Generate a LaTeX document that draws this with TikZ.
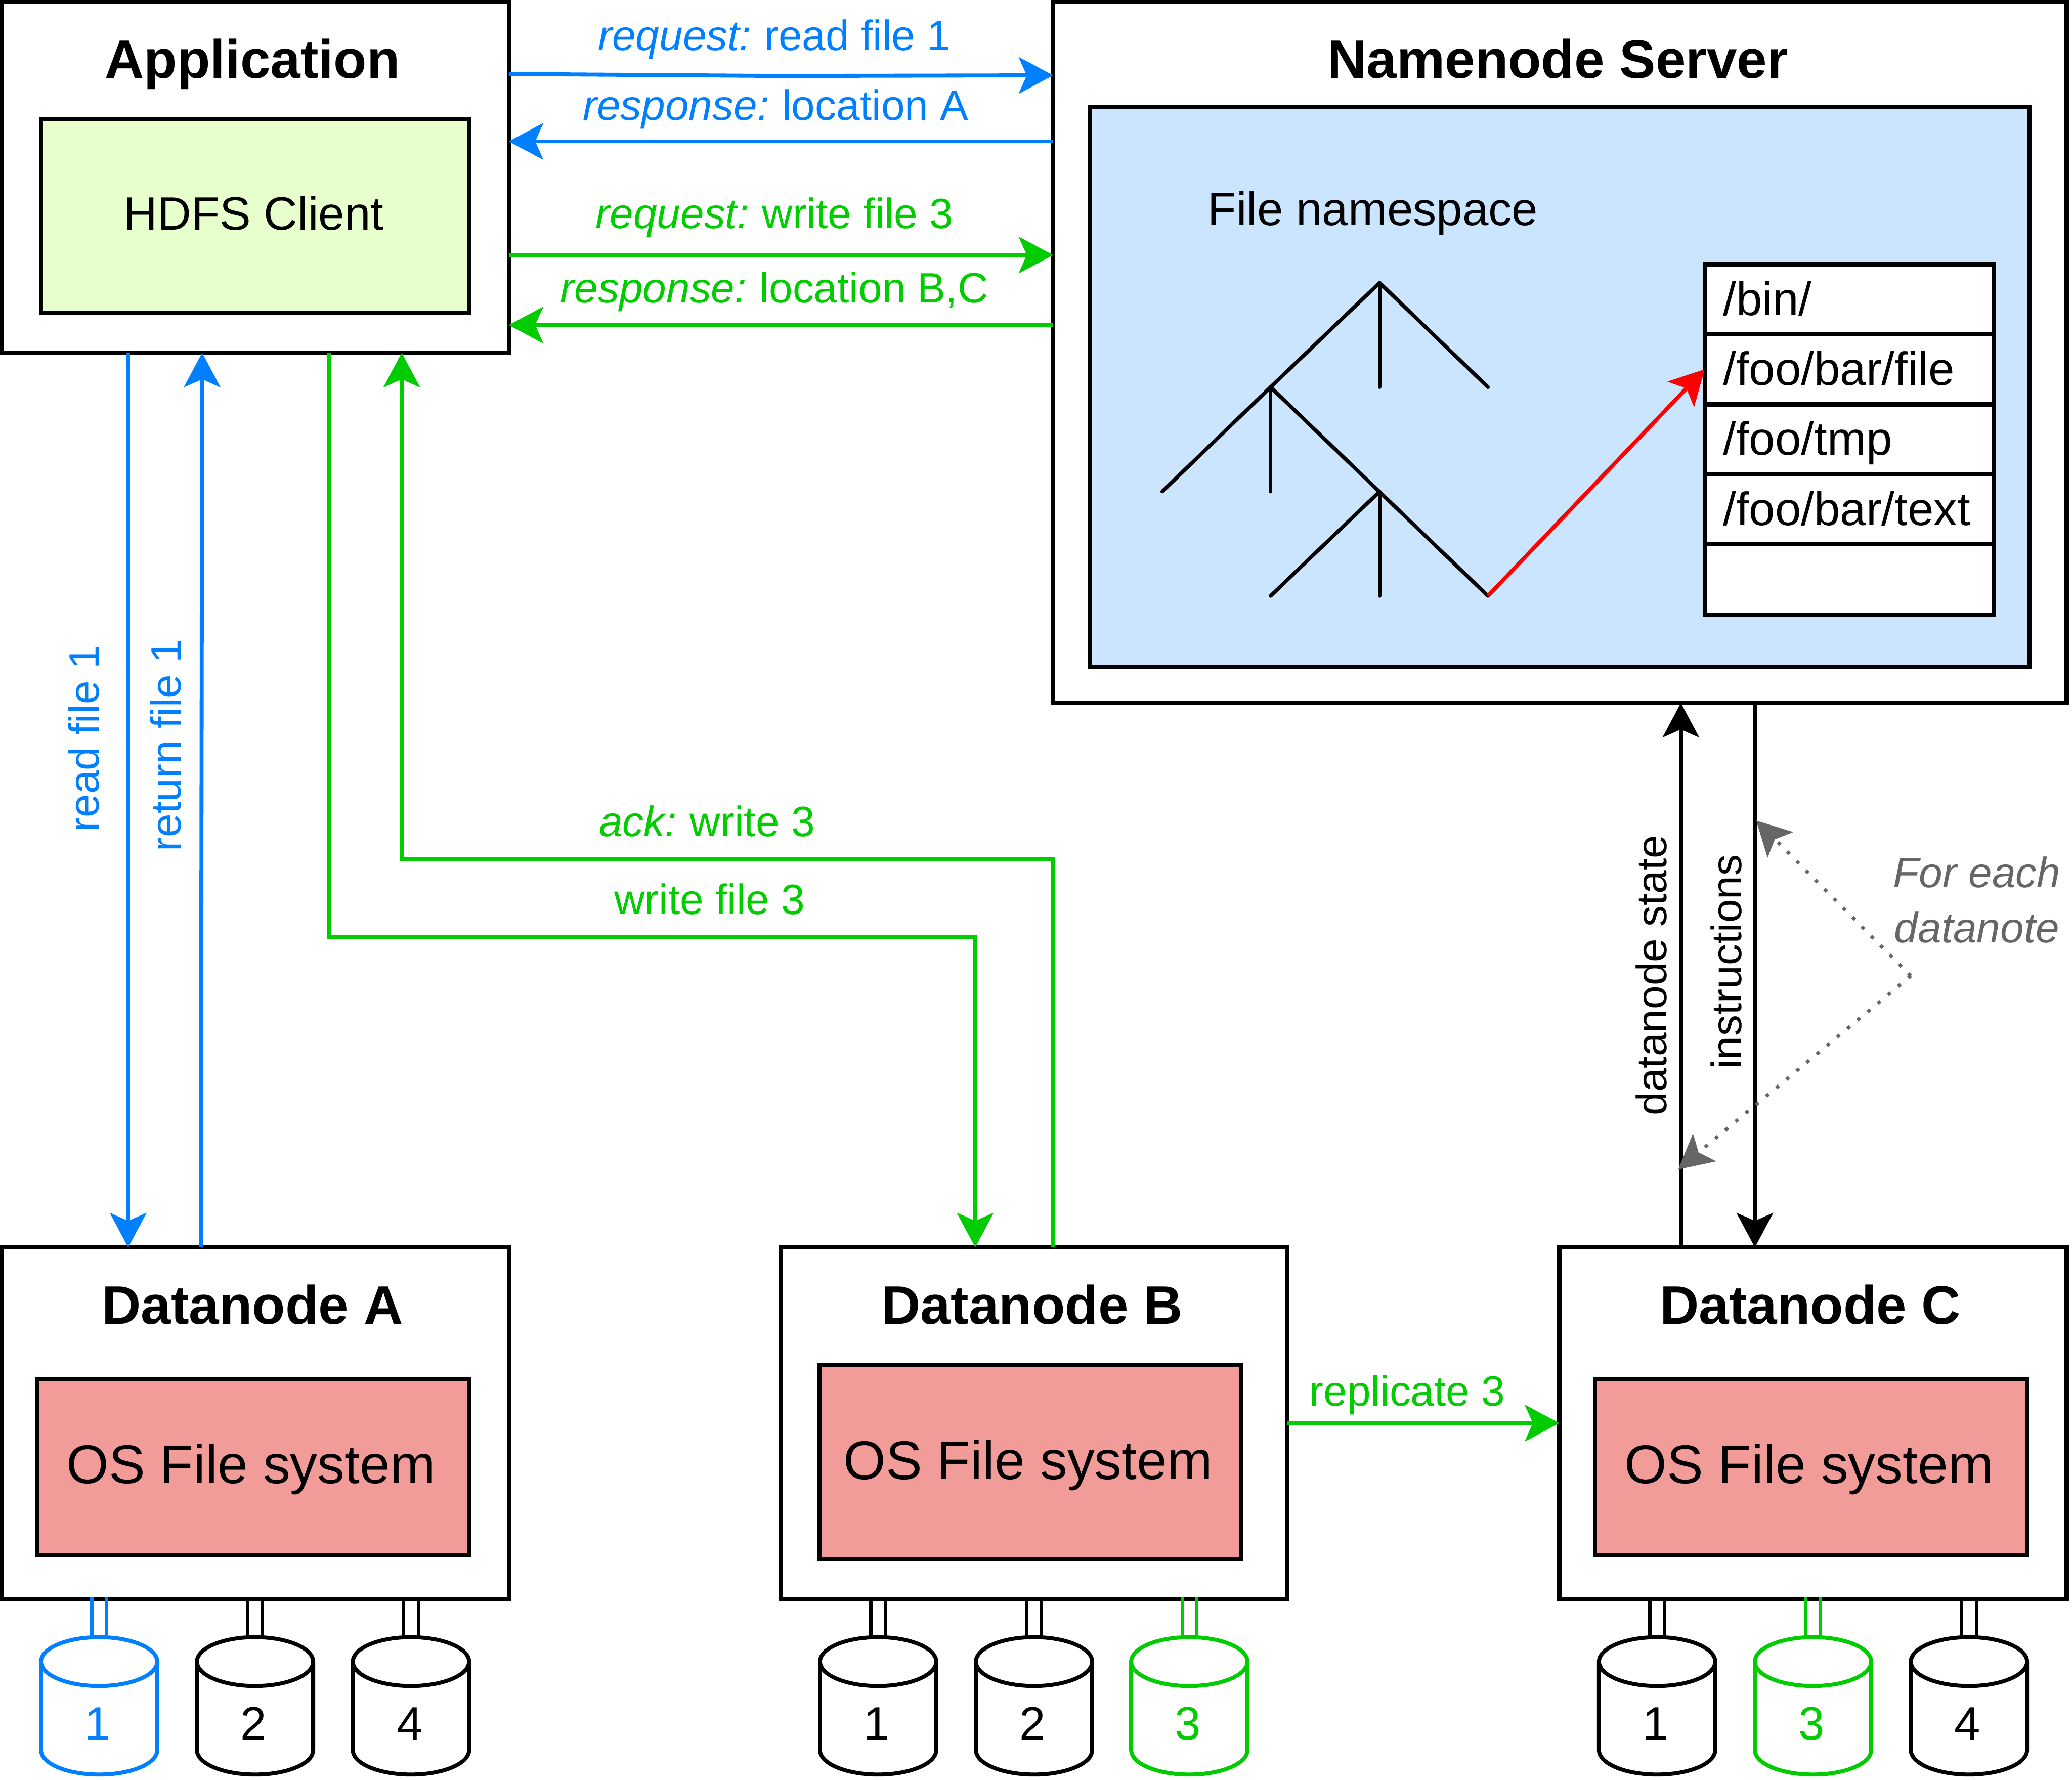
\documentclass[tikz,border=0pt]{standalone}
\usepackage{fontspec}
\setmainfont{Liberation Sans}
\usetikzlibrary{arrows.meta,calc}
\definecolor{cblue}{HTML}{007FFF}
\definecolor{cgreen}{HTML}{00CC00}
\definecolor{cgray}{HTML}{666666}
\definecolor{cclient}{HTML}{E6FFCC}
\definecolor{cname}{HTML}{CCE5FF}
\definecolor{cos}{HTML}{F19C99}
\newcommand{\lead}[1]{\textit{#1}\hspace{-2pt} }
\tikzset{
  x=1pt,y=-1pt,
  boxst/.style={draw=black,line width=3.2pt,fill=white,inner sep=0pt,outer sep=0pt,anchor=north west},
  cellst/.style={boxst,minimum width=219pt,minimum height=53pt,align=left,text width=191pt,
     font=\fontsize{35.4}{40}\selectfont,text height=31pt,text depth=7pt},
  titlest/.style={font=\fontsize{41}{46}\selectfont\bfseries,text height=37pt,text depth=9pt,inner sep=0pt},
  bigst/.style={font=\fontsize{41.2}{46}\selectfont,text height=36pt,text depth=9pt,inner sep=0pt},
  midst/.style={font=\fontsize{35.4}{40}\selectfont,text height=31pt,text depth=8pt,inner sep=0pt},
  labst/.style={font=\fontsize{32.1}{36}\selectfont,text height=29pt,text depth=7pt,inner sep=0pt},
  tipst/.style={-{Stealth[length=26pt,width=27.5pt,inset=6pt]}},
  arrowst/.style={line width=3pt,tipst},
  treest/.style={line width=2.8pt,line cap=round},
  notest/.style={cgray,line width=2.6pt,dash pattern=on 2.6pt off 7.4pt,
     -{Stealth[length=26pt,width=27.5pt,inset=6pt,line width=0pt]}},
}
\newcommand{\disk}[5]{%
  \node (#1) [inner sep=0pt,outer sep=0pt,minimum width=88pt,minimum height=104pt] at (#2,1291) {};
  \coordinate (#1s) at (#1.north |- #5.south);
  \draw[#3,line width=2.4pt] ([xshift=-5.5pt,yshift=1.5pt]#1s) -- ([xshift=-5.5pt,yshift=-2pt]#1.north);
  \draw[#3,line width=2.4pt] ([xshift=5.5pt,yshift=1.5pt]#1s) -- ([xshift=5.5pt,yshift=-2pt]#1.north);
  \draw[#3,line width=3pt,fill=white]
    ([yshift=-18.5pt]#1.north west) arc[start angle=180,end angle=0,x radius=44pt,y radius=18.5pt]
    -- ([yshift=18.5pt]#1.south east) arc[start angle=0,end angle=-180,x radius=44pt,y radius=18.5pt]
    -- cycle;
  \draw[#3,line width=3pt]
    ([yshift=-18.5pt]#1.north west) arc[start angle=180,end angle=360,x radius=44pt,y radius=18.5pt];
  \node (#1t) [midst,text=#3] at ([xshift=-1pt,yshift=-14pt]#1.center) {#4};
}
\begin{document}
\begin{tikzpicture}
\useasboundingbox (0,0) rectangle (1568,1347);
\fill[white] (0,0) rectangle (1568,1347);

% main boxes
\node (app) [boxst,minimum width=384pt,minimum height=266pt] at (1,1) {};
\node (client) [boxst,fill=cclient,minimum width=324pt,minimum height=147pt] at (31,90) {};
\node (name) [boxst,minimum width=767pt,minimum height=531pt] at (797,1) {};
\node (space) [boxst,fill=cname,minimum width=711pt,minimum height=424pt] at (825,81) {};
\node (dna) [boxst,minimum width=384pt,minimum height=266pt] at (1,944) {};
\node (osa) [boxst,fill=cos,minimum width=327pt,minimum height=133pt] at (28,1044) {};
\node (dnb) [boxst,minimum width=383pt,minimum height=266pt] at (591,944) {};
\node (osb) [boxst,fill=cos,minimum width=319pt,minimum height=147pt] at (620,1033) {};
\node (dnc) [boxst,minimum width=384pt,minimum height=266pt] at (1180,944) {};
\node (osc) [boxst,fill=cos,minimum width=327pt,minimum height=133pt] at (1207,1044) {};

% titles and inner texts
\node (tapp) [titlest] at (191,45) {Application};
\node (tname) [titlest] at (1179,45) {Namenode Server};
\node (tdna) [titlest] at (191,988) {Datanode A};
\node (tdnb) [titlest] at (781,988) {Datanode B};
\node (tdnc) [titlest] at (1370,988) {Datanode C};
\node (tclient) [midst] at ([xshift=-1pt,yshift=1pt]client.center) {HDFS Client};
\node (tosa) [bigst] at (190,1109) {OS File system};
\node (tosb) [bigst] at (778,1106) {OS File system};
\node (tosc) [bigst] at (1369,1109) {OS File system};
\node (tspace) [midst] at (1039,159) {File namespace};

% table
\node (r1) [cellst] at (1290,200) {/bin/};
\node (r2) [cellst] at (1290,253) {/foo/bar/file};
\node (r3) [cellst] at (1290,306) {/foo/tmp};
\node (r4) [cellst] at (1290,359) {/foo/bar/text};
\node (r5) [cellst] at (1290,412) {};

% tree
\coordinate (t0) at (1044,214);
\coordinate (t1) at (961.5,293);
\coordinate (t2) at (1044,293);
\coordinate (t3) at (1126,293);
\coordinate (t4) at (879.5,372);
\coordinate (t5) at (961.5,372);
\coordinate (t6) at (1044,372);
\coordinate (t7) at (1126,451);
\coordinate (t8) at (961.5,451);
\coordinate (t9) at (1044,451);
\draw[treest] (t0) -- (t1);
\draw[treest] (t0) -- (t2);
\draw[treest] (t0) -- (t3);
\draw[treest] (t1) -- (t4);
\draw[treest] (t1) -- (t5);
\draw[treest] (t1) -- (t7);
\draw[treest] (t6) -- (t8);
\draw[treest] (t6) -- (t9);
\draw[arrowst,red] (t7) -- (r2.west);

% top connectors
\draw[arrowst,cblue] ([yshift=-55pt]app.north east) -- ($([yshift=-55pt]app.north east)!.5!([yshift=-56pt]name.north west)+(0,1)$) -- ([yshift=-56pt]name.north west);
\draw[arrowst,cblue] ([yshift=-106pt]name.north west) -- ([yshift=-106pt]app.north east);
\draw[arrowst,cgreen] ([yshift=-192pt]app.north east) -- ([yshift=-192pt]name.north west);
\draw[arrowst,cgreen] ([yshift=-245pt]name.north west) -- ([yshift=-245pt]app.north east);
\node (l1) [labst,text=cblue] at (586,27) {\lead{request:}read file 1};
\node (l2) [labst,text=cblue] at (587,80) {\lead{response:}location A};
\node (l3) [labst,text=cgreen] at (586,162) {\lead{request:}write file 3};
\node (l4) [labst,text=cgreen] at (586,218) {\lead{response:}location B,C};

% application to datanodes
\draw[arrowst,cblue] ([xshift=96pt]app.south west) -- ([xshift=96pt]dna.north west);
\draw[arrowst,cblue] ([xshift=151pt]dna.north west) -- ([xshift=152pt]app.south west);
\node (l5) [labst,text=cblue,rotate=90] at (64,559) {read file 1};
\node (l6) [labst,text=cblue,rotate=90] at (126,564) {return file 1};
\coordinate (wa) at (249,709);
\coordinate (wb) at (738,709);
\coordinate (aa) at (797,650);
\coordinate (ab) at (304,650);
\draw[arrowst,cgreen] (wa |- app.south) -- (wa) -- (wb) -- (wb |- dnb.north);
\draw[arrowst,cgreen] (aa |- dnb.north) -- (aa) -- (ab) -- (ab |- app.south);
\node (l7) [labst,text=cgreen] at (535,622) {\lead{ack:}write 3};
\node (l8) [labst,text=cgreen] at (537,681) {write file 3};

% replicate
\draw[arrowst,cgreen] ([yshift=-133pt]dnb.north east) -- ([yshift=-133pt]dnc.north west);
\node (l9) [labst,text=cgreen] at (1065,1053) {replicate 3};

% namenode to datanode C
\coordinate (ds) at (1272,738);
\coordinate (is) at (1328,738);
\draw[arrowst,black] (ds |- dnc.north) -- (ds |- name.south);
\draw[arrowst,black] (is |- name.south) -- (is |- dnc.north);
\node (l10) [labst,rotate=90] at (1250,738) {datanode state};
\node (l11) [labst,rotate=90] at (1307,728) {instructions};

% note
\node (note) [labst,text=cgray,align=center,font=\fontsize{32.1}{42}\selectfont\itshape,text height=23pt,text depth=7pt] at (1496,705.5) {For each\\datanote};
\coordinate (na) at (1446,738.5);
\coordinate (nb) at (1329,621);
\coordinate (nc) at (1270,885);
\draw[notest] (na) -- (nb);
\draw[notest] (na) -- (nc);

% disks
\disk{a1}{75}{cblue}{1}{dna}
\disk{a2}{193}{black}{2}{dna}
\disk{a4}{311}{black}{4}{dna}
\disk{b1}{664.5}{black}{1}{dnb}
\disk{b2}{782.5}{black}{2}{dnb}
\disk{b3}{900}{cgreen}{3}{dnb}
\disk{c1}{1254}{black}{1}{dnc}
\disk{c3}{1372}{cgreen}{3}{dnc}
\disk{c4}{1490}{black}{4}{dnc}
\end{tikzpicture}
\end{document}
